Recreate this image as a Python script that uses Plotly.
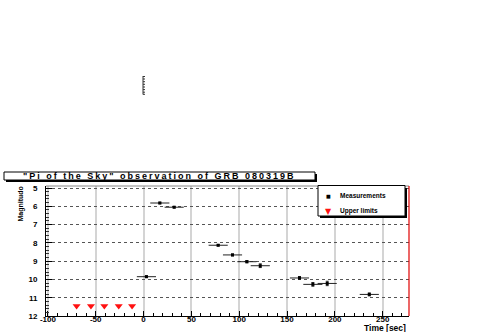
import plotly.graph_objects as go

# ---- data ----
meas_time = [3, 17, 32, 78, 93, 108, 122, 163, 177, 192, 236]
meas_mag = [9.85, 5.82, 6.05, 8.13, 8.66, 9.03, 9.25, 9.92, 10.27, 10.22, 10.82]
meas_time_err = [10, 10, 10, 10, 10, 10, 10, 10, 10, 10, 10]
meas_mag_err = [0.05, 0.04, 0.04, 0.04, 0.05, 0.06, 0.10, 0.08, 0.10, 0.12, 0.08]

upper_time = [-70, -55, -41, -26, -12]
upper_mag = [11.45, 11.45, 11.45, 11.45, 11.45]

x_ticks = [-100, -50, 0, 50, 100, 150, 200, 250]
y_ticks = [5, 6, 7, 8, 9, 10, 11, 12]

title_text = '"Pi of the Sky" observation of GRB 080319B'
legend_labels = ["Measurements", "Upper limits"]

W, H = 491, 332
ML, MR, MT, MB = 46, 82, 186, 16
PW, PH = W - ML - MR, H - MT - MB


def px(xp):
    return (xp - ML) / PW


def py(yp):
    return (H - MB - yp) / PH


FONT = "Liberation Sans"

fig = go.Figure()
fig.add_trace(go.Scatter(
    x=meas_time, y=meas_mag, mode="markers", name=legend_labels[0],
    marker=dict(symbol="square", size=3, color="black"),
    error_x=dict(type="data", array=meas_time_err, thickness=1, width=0, color="#222"),
    error_y=dict(type="data", array=meas_mag_err, thickness=1, width=1.5, color="#222"),
))
fig.add_trace(go.Scatter(
    x=upper_time, y=upper_mag, mode="markers", name=legend_labels[1],
    marker=dict(symbol="triangle-down", size=7, color="#ff1010"),
))

shapes = []
# top frame line (gray) and red right border
shapes.append(dict(type="line", xref="paper", yref="paper", x0=0, x1=1, y0=1, y1=1,
                   line=dict(color="#888", width=1)))
shapes.append(dict(type="line", xref="paper", yref="paper", x0=1, x1=1, y0=0, y1=1,
                   line=dict(color="#e00000", width=1.2)))
# title box with shadow
shapes.append(dict(type="rect", xref="paper", yref="paper",
                   x0=px(6), x1=px(317), y0=py(182), y1=py(174),
                   fillcolor="black", line=dict(width=0), layer="above"))
shapes.append(dict(type="rect", xref="paper", yref="paper",
                   x0=px(4), x1=px(315), y0=py(180), y1=py(172),
                   fillcolor="white", line=dict(color="black", width=1), layer="above"))
# legend box with shadow
shapes.append(dict(type="rect", xref="paper", yref="paper",
                   x0=px(320), x1=px(407), y0=py(218), y1=py(188),
                   fillcolor="black", line=dict(width=0), layer="above"))
shapes.append(dict(type="rect", xref="paper", yref="paper",
                   x0=px(318), x1=px(405), y0=py(216), y1=py(185.5),
                   fillcolor="white", line=dict(color="black", width=1), layer="above"))
# stray vertical axis fragment at top
shapes.append(dict(type="line", xref="paper", yref="paper", x0=px(143), x1=px(143),
                   y0=py(94.5), y1=py(76), line=dict(color="#333", width=1)))
for ty in [76.5, 79, 81.7, 84.3, 87, 89.6, 92.2, 94.3]:
    shapes.append(dict(type="line", xref="paper", yref="paper", x0=px(143), x1=px(145),
                       y0=py(ty), y1=py(ty), line=dict(color="#333", width=1)))

annotations = [
    dict(text='<span style="letter-spacing:2px">' + title_text + '</span>',
         xref="paper", yref="paper", x=px(159), y=py(176.3), xanchor="center", yanchor="middle",
         showarrow=False, font=dict(family=FONT, size=9, color="black", weight="bold")),
    dict(text="Magnitudo", xref="paper", yref="paper", x=px(20), y=py(185), textangle=-90,
         xanchor="center", yanchor="top", showarrow=False,
         font=dict(family=FONT, size=7, color="black", weight="bold")),
    dict(text="Time [sec]", xref="paper", yref="paper", x=px(408), y=py(328),
         xanchor="right", yanchor="middle", showarrow=False,
         font=dict(family=FONT, size=8.5, color="black", weight="bold")),
    # legend entries
    dict(text="■", xref="paper", yref="paper", x=px(328), y=py(195.5), xanchor="center",
         yanchor="middle", showarrow=False, font=dict(family="DejaVu Sans", size=5, color="black")),
    dict(text=legend_labels[0],
         xref="paper", yref="paper", x=px(338), y=py(195.5), xanchor="left",
         yanchor="middle", showarrow=False,
         font=dict(family=FONT, size=6.5, color="black", weight="bold")),
    dict(text="▼", xref="paper", yref="paper", x=px(328), y=py(211), xanchor="center",
         yanchor="middle", showarrow=False, font=dict(family="DejaVu Sans", size=8, color="#ff1010")),
    dict(text=legend_labels[1],
         xref="paper", yref="paper", x=px(338), y=py(211), xanchor="left",
         yanchor="middle", showarrow=False,
         font=dict(family=FONT, size=6.5, color="black", weight="bold")),
]

fig.update_layout(
    width=W, height=H,
    margin=dict(l=ML, r=MR, t=MT, b=MB),
    paper_bgcolor="white", plot_bgcolor="white",
    showlegend=False,
    shapes=shapes,
    annotations=annotations,
    xaxis=dict(range=[-102, 277.5], tickvals=x_ticks, ticktext=[str(v) for v in x_ticks],
               showline=True, linecolor="black", linewidth=1, mirror=False,
               ticks="inside", ticklen=5, tickcolor="black",
               showgrid=True, gridcolor="#d4d4d4", gridwidth=1.5,
               zeroline=False, automargin=False,
               tickfont=dict(family=FONT, size=8, color="black", weight="bold"),
               ticklabelstandoff=-5,
               minor=dict(ticks="inside", ticklen=3, dtick=10, tick0=0, tickcolor="black", showgrid=False)),
    yaxis=dict(range=[12, 4.89], tickvals=y_ticks, ticktext=[str(v) for v in y_ticks],
               showline=True, linecolor="black", linewidth=1, mirror=False,
               ticks="inside", ticklen=6, tickcolor="black",
               showgrid=True, gridcolor="#555", gridwidth=1, griddash="dot",
               zeroline=False, automargin=False,
               tickfont=dict(family=FONT, size=8, color="black", weight="bold"),
               ticklabelstandoff=6,
               minor=dict(ticks="inside", ticklen=3, dtick=0.2, tick0=5, tickcolor="#333", showgrid=False)),
)

fig.write_html("out.html",
               config={"displayModeBar": False},
               post_script="document.body.style.margin='0';document.body.style.overflow='hidden';")
